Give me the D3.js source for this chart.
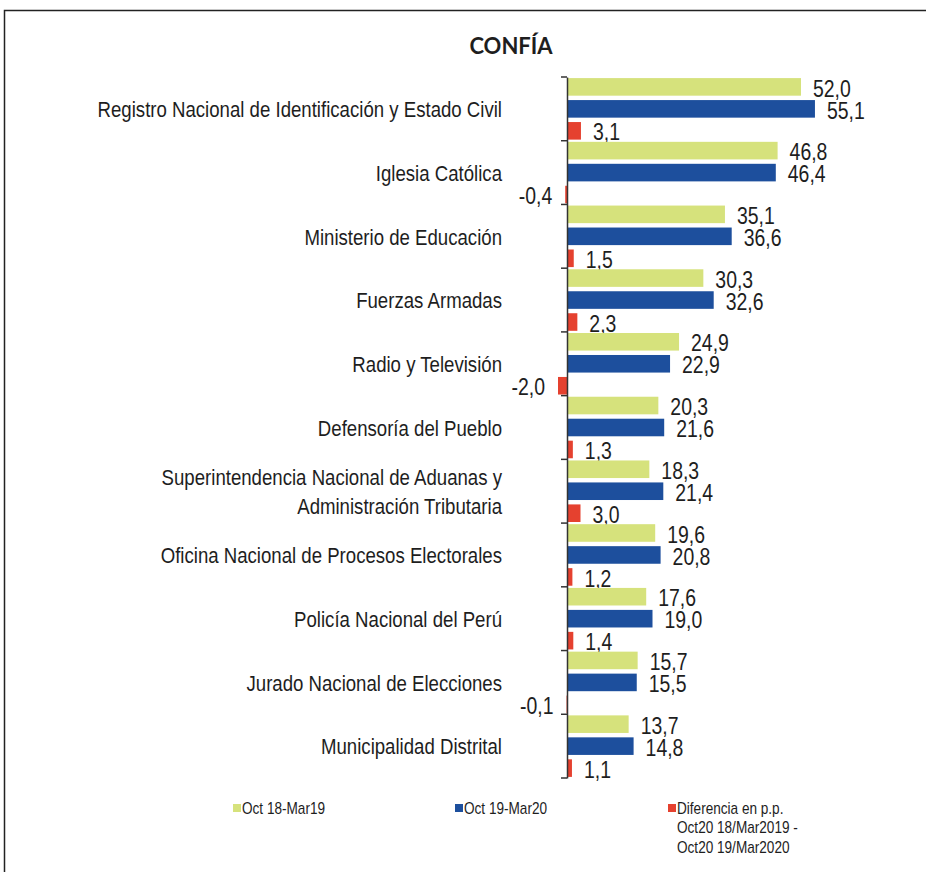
<!DOCTYPE html>
<html>
<head>
<meta charset="utf-8">
<script src="https://cdn.jsdelivr.net/npm/d3@7"></script>
<style>
  body { margin: 0; background: #fff; }
  svg text { font-family: "Liberation Sans Narrow", "Arial Narrow", "Liberation Sans", Arial, sans-serif; fill: #1e1e1e; }
  .title { font-family: Lato, "Open Sans", sans-serif; font-weight: 700; }
</style>
</head>
<body>
<div id="chart"></div>
<script>
const categories = [
  "Registro Nacional de Identificación y Estado Civil",
  "Iglesia Católica",
  "Ministerio de Educación",
  "Fuerzas Armadas",
  "Radio y Televisión",
  "Defensoría del Pueblo",
  "Superintendencia Nacional de Aduanas y|Administración Tributaria",
  "Oficina Nacional de Procesos Electorales",
  "Policía Nacional del Perú",
  "Jurado Nacional de Elecciones",
  "Municipalidad Distrital",
];
const oct18 = [52.0, 46.8, 35.1, 30.3, 24.9, 20.3, 18.3, 19.6, 17.6, 15.7, 13.7];
const oct19 = [55.1, 46.4, 36.6, 32.6, 22.9, 21.6, 21.4, 20.8, 19.0, 15.5, 14.8];
const diff = [3.1, -0.4, 1.5, 2.3, -2.0, 1.3, 3.0, 1.2, 1.4, -0.1, 1.1];
const seriesNames = ["Oct 18-Mar19", "Oct 19-Mar20", "Diferencia en p.p.|Oct20 18/Mar2019 -|Oct20 19/Mar2020"];
const seriesColors = ["#d6e27c", "#1d4f9d", "#e5412f"];

const width = 926;
const height = 872;
const fmt = (v) => v.toFixed(1).replace(".", ",");
// no narrow face installed, so squeeze the regular one
const squeeze = 0.81;

const svg = d3
  .select("#chart")
  .append("svg")
  .attr("width", width)
  .attr("height", height);

// frame
svg.append("rect")
  .attr("x", 4.5).attr("y", 10.5)
  .attr("width", 940).attr("height", 880)
  .attr("fill", "none")
  .attr("stroke", "#222")
  .attr("stroke-width", 1.5);

svg.append("text")
  .attr("class", "title")
  .attr("x", 511)
  .attr("y", 54)
  .attr("text-anchor", "middle")
  .attr("font-size", 22)
  .text("CONFÍA");

const rows = categories.map((c, i) => ({
  cat: c,
  vals: [oct18[i], oct19[i], diff[i]],
}));

const x = d3.scaleLinear().domain([0, 52]).range([567, 801]);
const y0 = d3.scaleBand().domain(categories).range([77, 778]);
const y1 = d3.scaleBand().domain([0, 1, 2]).range([0, y0.bandwidth()]).paddingInner(0.2).paddingOuter(0.05);

const groups = svg.selectAll("g.cat")
  .data(rows)
  .join("g")
  .attr("class", "cat")
  .attr("transform", (d) => `translate(0,${y0(d.cat)})`);

groups.selectAll("rect")
  .data((d) => d.vals)
  .join("rect")
  .attr("x", (v) => x(Math.min(0, v)))
  .attr("y", (v, i) => y1(i))
  .attr("width", (v) => Math.abs(x(v) - x(0)))
  .attr("height", y1.bandwidth())
  .attr("fill", (v, i) => seriesColors[i]);

groups.selectAll("text.val")
  .data((d) => d.vals)
  .join("text")
  .attr("class", "val")
  .attr("transform", (v, i) => {
    const tx = v < 0 ? x(v) - 13 : x(v) + 12;
    const ty = y1(i) + y1.bandwidth() / 2 + 1;
    return `translate(${tx},${ty}) scale(${squeeze},1)`;
  })
  .attr("dy", "0.36em")
  .attr("text-anchor", (v) => (v < 0 ? "end" : "start"))
  .attr("font-size", 24)
  .text((v) => fmt(v));

// category labels
groups.append("text")
  .attr("class", "cat-label")
  .attr("text-anchor", "end")
  .attr("font-size", 23)
  .attr("transform", `translate(502,0) scale(${squeeze},1)`)
  .each(function (d) {
    const lines = d.cat.split("|");
    const mid = y0.bandwidth() / 2;
    const lh = 30;
    d3.select(this)
      .selectAll("tspan")
      .data(lines)
      .join("tspan")
      .attr("x", 0)
      .attr("y", (l, i) => mid + (i - (lines.length - 1) / 2) * lh)
      .attr("dy", "0.36em")
      .text((l) => l);
  });

// axis
const axis = svg.append("g")
  .attr("transform", `translate(${x(0)},0)`)
  .call(
    d3.axisLeft(y0)
      .tickValues(categories)
      .tickFormat("")
      .tickSize(6)
      .tickSizeOuter(0)
  );
axis.select(".domain").attr("stroke", "#333").attr("stroke-width", 1.5);
axis.selectAll(".tick line")
  .attr("stroke", "#333")
  .attr("stroke-width", 1.5)
  .attr("transform", `translate(0,${-y0.bandwidth() / 2})`);
// closing tick at bottom
axis.append("line")
  .attr("x1", -6).attr("x2", 0)
  .attr("y1", y0.range()[1]).attr("y2", y0.range()[1])
  .attr("stroke", "#333").attr("stroke-width", 1.5);

// legend
const legendX = [233, 455, 668];
const legend = svg.selectAll("g.legend")
  .data(seriesNames)
  .join("g")
  .attr("class", "legend")
  .attr("transform", (d, i) => `translate(${legendX[i]},804)`);

legend.append("rect")
  .attr("width", 8)
  .attr("height", 8)
  .attr("fill", (d, i) => seriesColors[i]);

legend.append("text")
  .attr("font-size", 16)
  .attr("transform", "translate(9,0) scale(0.85,1)")
  .selectAll("tspan")
  .data((d) => d.split("|"))
  .join("tspan")
  .attr("x", 0)
  .attr("y", (l, i) => 4 + i * 19.5)
  .attr("dy", "0.36em")
  .text((l) => l);
</script>
</body>
</html>
